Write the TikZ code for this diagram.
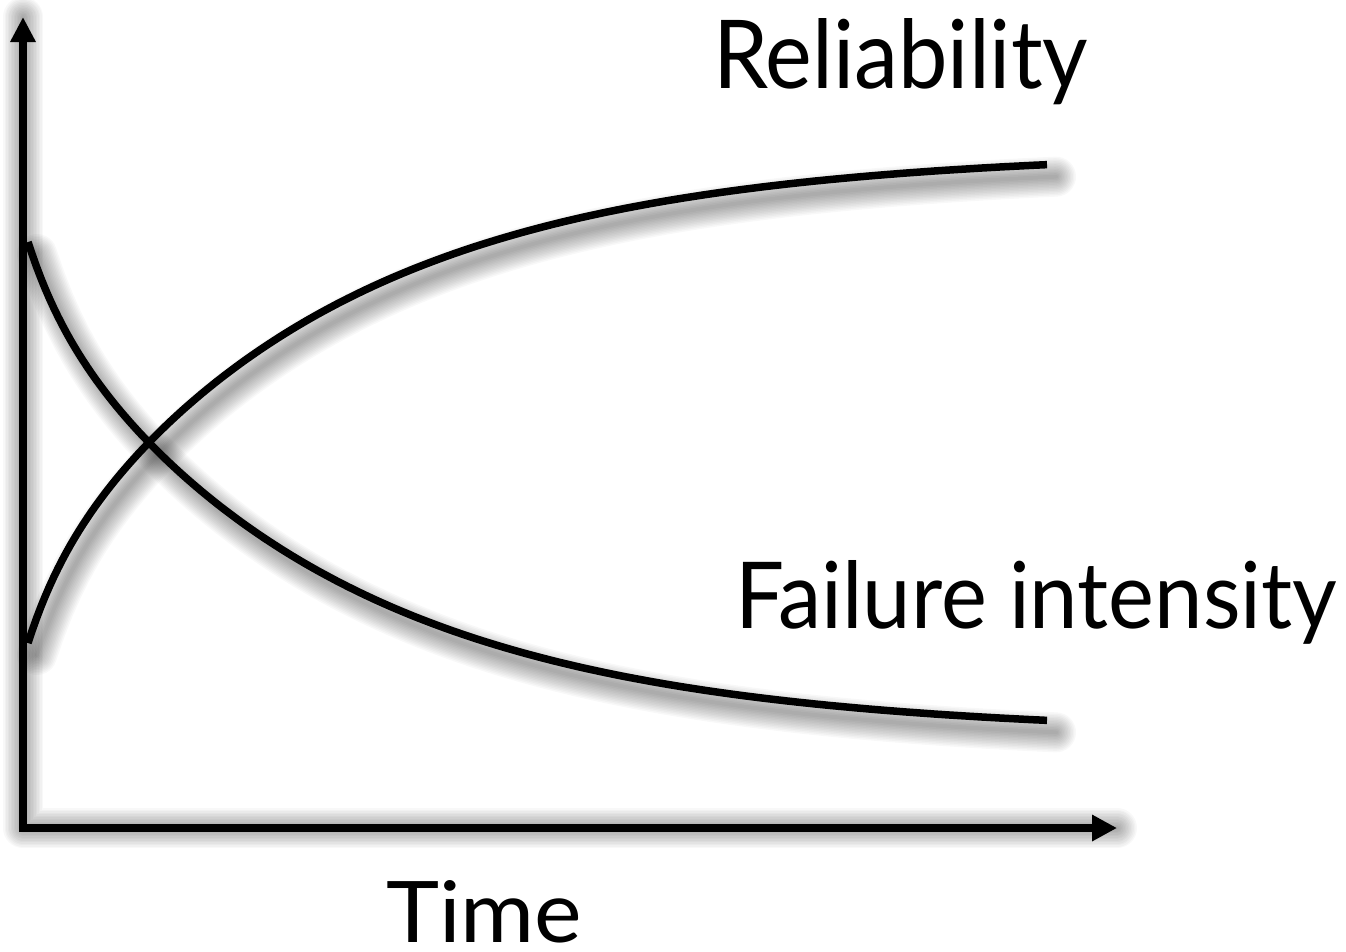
\documentclass[tikz,border=0pt]{standalone}
\usepackage{fontspec}
\usepackage{graphicx}
\setmainfont{Lato}
\usetikzlibrary{arrows.meta}
\begin{document}
\begin{tikzpicture}[x=1pt,y=-1pt,
  declare function={dd(\t)=54.4*exp(-0.03*(\t-28))+437.6*exp(-0.0034*(\t-28))-15;},
  axisline/.style={line width=8pt, line join=miter,
    {Triangle[width=24pt,length=25pt]}-{Triangle[width=25pt,length=25pt]}},
  curveline/.style={line width=7.5pt},
  shadowline/.style={black, opacity=0.028, line join=round, line cap=round, shift={(9,12)}},
  lbl/.style={anchor=base west, inner sep=0pt, font=\fontsize{60}{60}\selectfont}]
\useasboundingbox[fill=white] (0,0) rectangle (1346,951);
\coordinate (ytop) at (23,17);
\coordinate (origin) at (23,828);
\coordinate (xend) at (1117,828);
% shadows
\foreach \w in {4,7,10,13,16,19,22,25,28,31,34,37,40}{
  \draw[shadowline, line width=\w pt] (ytop) -- (origin) -- (xend);
  \draw[shadowline, line width=\w pt] plot[domain=28:1047, samples=120, variable=\t] ({\t},{166+dd(\t)});
  \draw[shadowline, line width=\w pt] plot[domain=28:1047, samples=120, variable=\t] ({\t},{719-dd(\t)});
}
% axes
\draw[axisline] (ytop) -- (origin) -- (xend);
% curves
\draw[curveline] plot[domain=28:1047, samples=240, variable=\t] ({\t},{166+dd(\t)});
\draw[curveline] plot[domain=28:1047, samples=240, variable=\t] ({\t},{719-dd(\t)});
% labels
\node[lbl] (rel) at (713,88) {\resizebox{375pt}{70pt}{Reliability}};
\node[lbl] (fail) at (735,628) {\resizebox{602pt}{68pt}{Failure intensity}};
\node[lbl] (time) at (386,942) {\resizebox{196pt}{62pt}{Time}};
\end{tikzpicture}
\end{document}
